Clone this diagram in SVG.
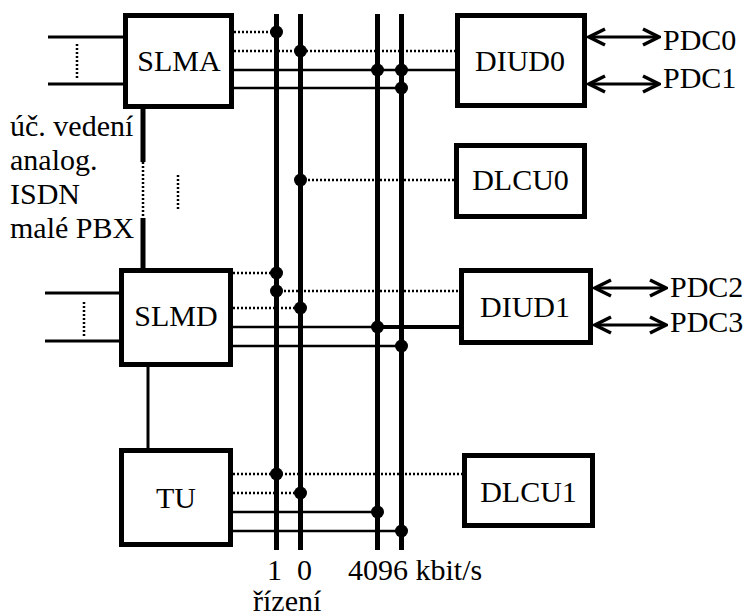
<svg xmlns="http://www.w3.org/2000/svg" width="748" height="616" viewBox="0 0 748 616">
<style>
  .box{fill:#fff;stroke:#000;stroke-width:5}
  text{font-family:'Liberation Serif','Times New Roman','DejaVu Serif',serif;font-size:30px;fill:#000}
  .bus{stroke:#000;stroke-width:5;fill:none}
  .sol{stroke:#000;stroke-width:2.5;fill:none}
  .thk{stroke:#000;stroke-width:3;fill:none}
  .dot{stroke:#000;stroke-width:2.5;stroke-dasharray:2 2;fill:none}
  .arr{stroke:#000;stroke-width:3;fill:none;marker-start:url(#ah);marker-end:url(#ah)}
</style>
<defs>
  <marker id="ah" viewBox="0 0 20 20" markerUnits="userSpaceOnUse" markerWidth="20" markerHeight="20" refX="18" refY="10" orient="auto-start-reverse">
    <path d="M2,2 L18,10 L2,18" fill="none" stroke="#000" stroke-width="3.5"/>
  </marker>
  <circle id="j" r="6.5" fill="#000"/>
</defs>
<rect width="748" height="616" fill="#fff"/>
<g id="connectors">
  <line class="bus" x1="276.5" y1="14" x2="276.5" y2="550"/>
  <line class="bus" x1="300.5" y1="14" x2="300.5" y2="550"/>
  <line class="bus" x1="377.5" y1="14" x2="377.5" y2="550"/>
  <line class="bus" x1="401.5" y1="14" x2="401.5" y2="550"/>
  <line class="thk" x1="48" y1="37" x2="123" y2="37"/>
  <line class="thk" x1="48" y1="84" x2="123" y2="84"/>
  <line class="dot" x1="77" y1="44" x2="77" y2="80"/>
  <line class="dot" x1="234" y1="32" x2="276" y2="32"/>
  <line class="dot" x1="234" y1="51" x2="455" y2="51"/>
  <line class="sol" x1="234" y1="70" x2="455" y2="70"/>
  <line class="sol" x1="234" y1="88" x2="401" y2="88"/>
  <use href="#j" x="276.5" y="32"/>
  <use href="#j" x="300.5" y="51"/>
  <use href="#j" x="377.5" y="70"/>
  <use href="#j" x="401.5" y="70"/>
  <use href="#j" x="401.5" y="88"/>
  <line class="dot" x1="300" y1="180" x2="454" y2="180"/>
  <use href="#j" x="300.5" y="180"/>
  <line class="bus" x1="143" y1="109" x2="143" y2="162"/>
  <line class="dot" x1="143" y1="162" x2="143" y2="218"/>
  <line class="bus" x1="143" y1="218" x2="143" y2="268"/>
  <line class="dot" x1="178" y1="175" x2="178" y2="210"/>
  <line class="thk" x1="45" y1="293" x2="119" y2="293"/>
  <line class="thk" x1="45" y1="341" x2="119" y2="341"/>
  <line class="dot" x1="84" y1="302" x2="84" y2="337"/>
  <line class="dot" x1="233" y1="273" x2="276" y2="273"/>
  <line class="dot" x1="276" y1="291" x2="459" y2="291"/>
  <line class="dot" x1="233" y1="308" x2="300" y2="308"/>
  <line class="sol" x1="233" y1="327" x2="377" y2="327"/>
  <line class="thk" x1="377" y1="327" x2="459" y2="327" style="stroke-width:4"/>
  <line class="sol" x1="233" y1="346" x2="401" y2="346"/>
  <use href="#j" x="276.5" y="273"/>
  <use href="#j" x="276.5" y="291"/>
  <use href="#j" x="300.5" y="308"/>
  <use href="#j" x="377.5" y="327"/>
  <use href="#j" x="401.5" y="346"/>
  <line class="thk" x1="148" y1="367" x2="148" y2="448"/>
  <line class="dot" x1="233" y1="474" x2="462" y2="474"/>
  <line class="dot" x1="233" y1="493" x2="300" y2="493"/>
  <line class="sol" x1="233" y1="512" x2="377" y2="512"/>
  <line class="sol" x1="233" y1="531" x2="401" y2="531"/>
  <use href="#j" x="276.5" y="474"/>
  <use href="#j" x="300.5" y="493"/>
  <use href="#j" x="377.5" y="512"/>
  <use href="#j" x="401.5" y="531"/>
  <line class="arr" x1="589" y1="37" x2="659" y2="37"/>
  <line class="arr" x1="589" y1="84" x2="659" y2="84"/>
  <line class="arr" x1="595" y1="288" x2="666" y2="288"/>
  <line class="arr" x1="595" y1="325" x2="666" y2="325"/>
</g>
<g id="SLMA"><rect class="box" x="125.5" y="15.5" width="106" height="91"/><text x="179" y="71" text-anchor="middle">SLMA</text></g>
<g id="DIUD0"><rect class="box" x="457.5" y="15.5" width="127" height="90"/><text x="520" y="71" text-anchor="middle">DIUD0</text></g>
<g id="DLCU0"><rect class="box" x="456.5" y="145.5" width="128" height="71"/><text x="520.5" y="190" text-anchor="middle">DLCU0</text></g>
<g id="SLMD"><rect class="box" x="121.5" y="270.5" width="109" height="94"/><text x="176" y="326" text-anchor="middle">SLMD</text></g>
<g id="DIUD1"><rect class="box" x="461.5" y="270.5" width="129" height="72"/><text x="525" y="317" text-anchor="middle">DIUD1</text></g>
<g id="TU"><rect class="box" x="121.5" y="450.5" width="109" height="94"/><text x="176" y="508" text-anchor="middle">TU</text></g>
<g id="DLCU1"><rect class="box" x="464.5" y="455.5" width="128" height="70"/><text x="528.5" y="502" text-anchor="middle">DLCU1</text></g>
<g id="labels">
  <text x="663" y="50">PDC0</text>
  <text x="663" y="88">PDC1</text>
  <text x="670" y="297">PDC2</text>
  <text x="670" y="332">PDC3</text>
  <text x="10" y="136">úč. vedení</text>
  <text x="10" y="170">analog.</text>
  <text x="10" y="204">ISDN</text>
  <text x="10" y="238">malé PBX</text>
  <text x="274.5" y="580" text-anchor="middle" font-size="26">1</text>
  <text x="304.5" y="580" text-anchor="middle" font-size="26">0</text>
  <text x="348" y="580" font-size="25">4096 kbit/s</text>
  <text x="253" y="611">řízení</text>
</g>
</svg>
